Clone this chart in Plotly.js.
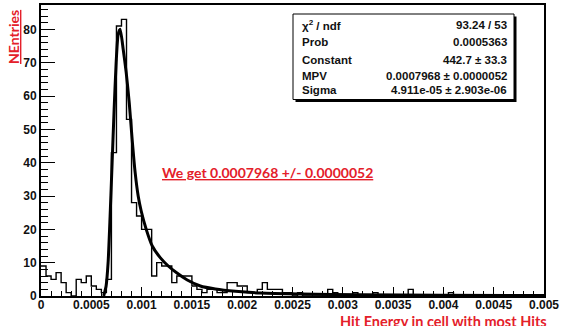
<!DOCTYPE html>
<html>
<head>
<meta charset="utf-8">
<script src="https://cdn.plot.ly/plotly-3.0.1.min.js"></script>
<style>html,body{margin:0;padding:0;background:#fff;}#chart{width:562px;height:326px;}</style>
</head>
<body>
<div id="chart"></div>
<script>
// ---- data ----
const binLow = 0;
const binWidth = 0.00005;
const counts = [
  9, 6, 5, 7, 4, 1, 0, 5, 4, 6,
  3, 2, 1, 5, 43, 81, 83, 53, 28, 24,
  20, 20, 6, 10, 9, 9, 4, 6, 6, 6,
  3, 2, 1, 2, 2, 1, 1, 4, 4, 3,
  3, 1, 1, 2, 4, 2, 2, 2, 1, 1,
  0, 1, 0, 0, 0, 0, 0, 2, 1, 0,
  0, 0, 1, 0, 0, 0, 1, 0, 0, 0,
  0, 0, 0, 2, 0, 0, 0, 0, 0, 0,
  0, 1, 0, 0, 0, 0, 0, 0, 0, 0,
  0, 0, 0, 0, 0, 0, 0, 0, 0, 0
];
// Landau fit curve
const fitX = [0.000623, 0.000647, 0.000667, 0.000687, 0.000707, 0.000727, 0.000747, 0.000767, 0.000787,
  0.000817, 0.000847, 0.000877, 0.000906, 0.000936, 0.000966, 0.000996, 0.001046, 0.001106, 0.001185,
  0.001265, 0.001355, 0.001454, 0.001584, 0.001733, 0.001932, 0.002181, 0.00258, 0.003177, 0.003974, 0.005];
const fitY = [0, 3, 10, 24, 40, 56, 70, 78.5, 80,
  74, 67, 58, 47, 37, 30, 25.5, 20, 15, 11.5,
  9, 6.8, 4.8, 3, 2.1, 1.4, 0.9, 0.6, 0.35, 0.22, 0.15];
const statLabels = ["\u03c7<sup>2</sup> / ndf", "Prob", "Constant", "MPV", "Sigma"];
const statValues = ["93.24 / 53", "0.0005363", "442.7 \u00b1 33.3", "0.0007968 \u00b1 0.0000052", "4.911e-05 \u00b1 2.903e-06"];
const xTitle = "Hit Energy in cell with most Hits";
const yTitle = "NEntries";
const note = "We get 0.0007968 +/- 0.0000052";

// ---- build step outline from bins ----
const stepX = [], stepY = [];
for (let i = 0; i < counts.length; i++) { stepX.push(binLow + i * binWidth); stepY.push(counts[i]); }
stepX.push(binLow + counts.length * binWidth); stepY.push(counts[counts.length - 1]);

const red = '#e4202a';
const tickFont = {family: 'Liberation Sans, Arial, sans-serif', size: 12, color: '#111', weight: 'bold'};
const statFont = {family: 'Liberation Sans, Arial, sans-serif', size: 11.5, color: '#111', weight: 'bold'};
const redFont = {family: 'Lato, Open Sans, sans-serif', size: 14, color: red, weight: 'bold'};
const redFontX = {family: 'Lato, Open Sans, sans-serif', size: 14.5, color: red, weight: 'bold'};

const traces = [
  {x: stepX, y: stepY, type: 'scatter', mode: 'lines', line: {shape: 'hv', color: '#000', width: 1.4}, hoverinfo: 'skip'},
  {x: fitX, y: fitY, type: 'scatter', mode: 'lines', line: {shape: 'spline', smoothing: 0.6, color: '#000', width: 3}, hoverinfo: 'skip'}
];

// geometry helpers in paper coords
const L = 41, R = 544, T = 5, B = 296;
const px = v => (v - L) / (R - L);
const py = v => (B - v) / (B - T);
const rowY = [25, 42.5, 59.5, 75.5, 90.5];

const annotations = [];
statLabels.forEach((t, i) => annotations.push({xref: 'paper', yref: 'paper', x: px(300), y: py(rowY[i]), xanchor: 'left', yanchor: 'middle', text: t, showarrow: false, font: statFont}));
statValues.forEach((t, i) => annotations.push({xref: 'paper', yref: 'paper', x: px(508.5), y: py(rowY[i]), xanchor: 'right', yanchor: 'middle', text: t, showarrow: false, font: statFont}));
annotations.push({xref: 'paper', yref: 'paper', x: px(267), y: py(172), xanchor: 'center', yanchor: 'middle', text: '<u>' + note + '</u>', showarrow: false, font: redFont});
annotations.push({xref: 'paper', yref: 'paper', x: px(549), y: py(321), xanchor: 'right', yanchor: 'middle', text: xTitle, showarrow: false, font: redFontX});
annotations.push({xref: 'paper', yref: 'paper', x: px(13), y: py(37), xanchor: 'center', yanchor: 'middle', textangle: -90, text: '<u>' + yTitle + '</u>', showarrow: false, font: redFont});

const shapes = [
  {type: 'rect', xref: 'paper', yref: 'paper', x0: px(295.5), x1: px(516.5), y0: py(102), y1: py(16.5), fillcolor: '#000', line: {width: 0}},
  {type: 'rect', xref: 'paper', yref: 'paper', x0: px(293), x1: px(514), y0: py(99.5), y1: py(14), fillcolor: '#fff', line: {color: '#000', width: 1}}
];

const axisCommon = {showline: true, linecolor: '#000', linewidth: 2, mirror: true, ticks: 'inside', tickcolor: '#000', tickwidth: 1,
  showgrid: false, zeroline: false, tickfont: tickFont, fixedrange: true};

const layout = {
  width: 562, height: 326,
  margin: {l: L, r: 562 - R, t: T, b: 326 - B, pad: 0},
  paper_bgcolor: '#fff', plot_bgcolor: '#fff',
  showlegend: false,
  xaxis: Object.assign({}, axisCommon, {range: [0, 0.005], tick0: 0, dtick: 0.0005, ticklen: 9, tickformat: '.4~f',
    ticklabelstandoff: -3,
    minor: {ticks: 'inside', dtick: 0.0001, tick0: 0, ticklen: 5, tickcolor: '#000', showgrid: false}}),
  yaxis: Object.assign({}, axisCommon, {range: [0, 87.3], tick0: 0, dtick: 10, ticklen: 14,
    minor: {ticks: 'inside', dtick: 2, tick0: 0, ticklen: 7, tickcolor: '#000', showgrid: false}}),
  annotations: annotations,
  shapes: shapes
};

Plotly.newPlot('chart', traces, layout, {staticPlot: true, displayModeBar: false});
</script>
</body>
</html>
